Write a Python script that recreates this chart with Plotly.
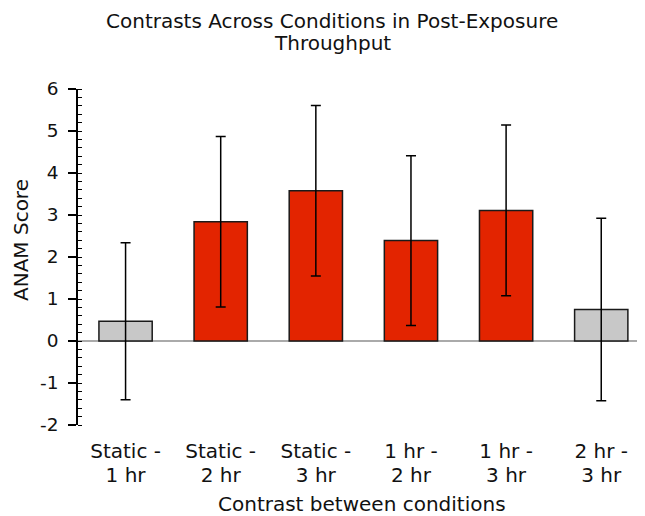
import plotly.graph_objects as go

categories = ["Static -<br>1 hr", "Static -<br>2 hr", "Static -<br>3 hr",
              "1 hr -<br>2 hr", "1 hr -<br>3 hr", "2 hr -<br>3 hr"]
values = [0.47, 2.84, 3.58, 2.39, 3.11, 0.75]
errors = [1.87, 2.03, 2.03, 2.02, 2.03, 2.17]
significant = [False, True, True, True, True, False]
y_ticks = [-2, -1, 0, 1, 2, 3, 4, 5, 6]
y_ticklabels = ["-2", "-1", "0", "1", "2", "3", "4", "5", "6"]
title_lines = ["Contrasts Across Conditions in Post-Exposure", "Throughput"]
x_title = "Contrast between conditions"
y_title = "ANAM Score"

RED = "#E32400"
GRAY = "#C8C8C8"
colors = [RED if s else GRAY for s in significant]

# page body has an 8px default margin, so the figure is laid out 8px in
W, H = 637, 508
L, R, T, B = 70, 0, 81, 91
plot_w = W - L - R
plot_h = H - T - B


def px_x(fx):
    return (fx - L) / plot_w


def px_y(fy):
    return (H - B - fy) / plot_h


xs = list(range(len(categories)))
line1 = [c.split("<br>")[0] for c in categories]
line2 = [c.split("<br>")[1] for c in categories]

fig = go.Figure()
fig.add_trace(go.Bar(
    x=xs,
    y=values,
    marker=dict(color=colors, line=dict(color="#1a1a1a", width=1.5)),
    error_y=dict(type="data", array=errors, visible=True,
                 color="black", thickness=1.5, width=5),
    width=0.56,
))

TXT = "#111111"
# title, one annotation per line for the tighter line spacing
for txt, fy in zip(title_lines, [13, 35]):
    fig.add_annotation(text=txt, x=px_x(324), xref="paper", xanchor="center",
                       y=px_y(fy), yref="paper", yanchor="middle", showarrow=False,
                       borderpad=0,
                       font=dict(size=20, color=TXT, family="DejaVu Sans"))

fig.add_annotation(text=x_title, x=0.5, xref="paper", xanchor="center",
                   y=px_y(496), yref="paper", yanchor="middle", showarrow=False,
                   borderpad=0,
                   font=dict(size=20, color=TXT, family="DejaVu Sans"))
fig.add_annotation(text=y_title, x=px_x(13), xref="paper", xanchor="center",
                   y=px_y(232), yref="paper", yanchor="middle", showarrow=False,
                   textangle=-90, borderpad=0,
                   font=dict(size=20, color=TXT, family="DejaVu Sans"))

common_y = dict(range=[-2, 6], tickmode="array", tickvals=y_ticks,
                showgrid=False)
common_x = dict(range=[-0.5, 5.46], tickmode="array", tickvals=xs,
                showgrid=False, zeroline=False, showline=False, ticks="",
                tickfont=dict(size=20, color=TXT), automargin=False)

fig.update_layout(
    width=W, height=H,
    paper_bgcolor="white", plot_bgcolor="white",
    margin=dict(l=L, r=R, t=T, b=B, autoexpand=False),
    showlegend=False,
    font=dict(family="DejaVu Sans", color=TXT),
    xaxis=dict(**common_x, ticktext=line1, ticklabelstandoff=12),
    xaxis2=dict(**common_x, ticktext=line2, ticklabelstandoff=36,
                overlaying="x", side="bottom", anchor="y"),
    yaxis=dict(
        **common_y,
        ticktext=y_ticklabels,
        tickfont=dict(size=18.5, color=TXT),
        zeroline=True, zerolinecolor="#AAAAAA", zerolinewidth=2,
        showline=True, linecolor="black", linewidth=1.5,
        ticks="outside", ticklen=8, tickwidth=1.5, tickcolor="black",
        ticklabelstandoff=6,
        minor=dict(tickmode="linear", dtick=0.2, ticks="inside", ticklen=4,
                   tickwidth=1.2, tickcolor="black"),
        automargin=False,
    ),
    yaxis2=dict(
        **common_y,
        overlaying="y", side="left", anchor="x",
        showticklabels=False, zeroline=False, showline=False,
        ticks="inside", ticklen=5, tickwidth=1.5, tickcolor="black",
    ),
)

# invisible trace so the second x axis is drawn
fig.add_trace(go.Scatter(x=xs, y=[None] * len(xs), xaxis="x2", yaxis="y",
                         mode="markers", hoverinfo="skip", showlegend=False))

fig.write_html("out.html")
